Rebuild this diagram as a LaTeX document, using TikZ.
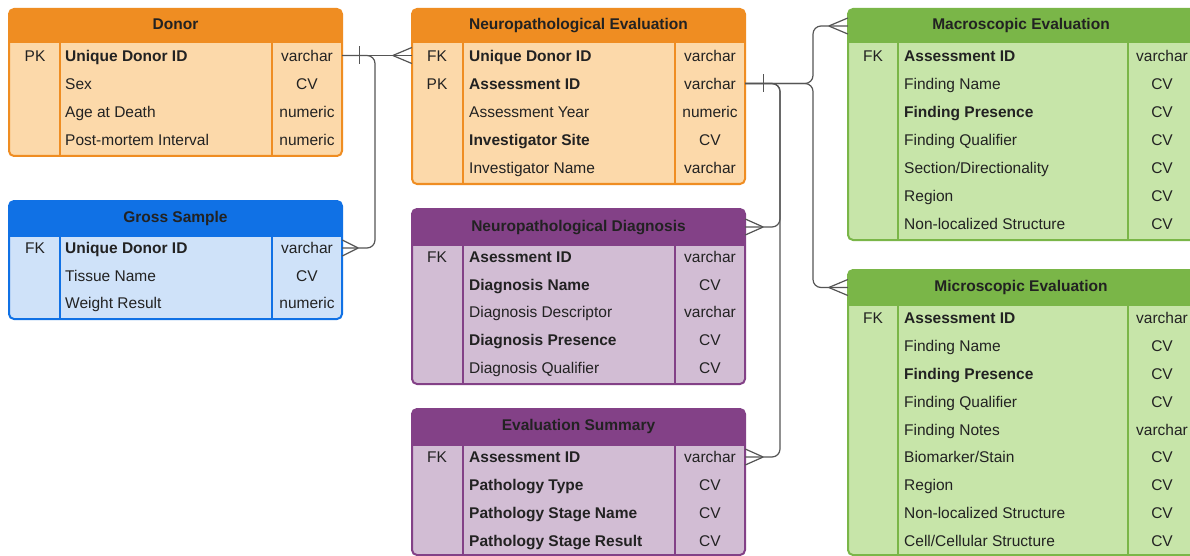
\documentclass[tikz,border=0pt]{standalone}
\usepackage{fontspec}
\setmainfont{Liberation Sans}
\usetikzlibrary{calc}
\definecolor{orhead}{HTML}{EF8D22}\definecolor{orbody}{HTML}{FCD9AA}
\definecolor{blhead}{HTML}{1071E5}\definecolor{blbody}{HTML}{CFE2F9}
\definecolor{puhead}{HTML}{834187}\definecolor{pubody}{HTML}{D2BDD4}
\definecolor{grhead}{HTML}{7AB648}\definecolor{grbody}{HTML}{C7E5A9}
\definecolor{txt}{HTML}{222222}\definecolor{lin}{HTML}{555555}
\tikzset{
 txtbase/.style={inner sep=0pt, text height=11.2pt, text depth=0pt, font=\fontsize{15.5}{18}\selectfont, text=txt},
 keytxt/.style={txtbase, anchor=center},
 fieldtxt/.style={txtbase, anchor=west},
 typetxt/.style={txtbase, anchor=center},
 titletxt/.style={txtbase, anchor=center, font=\fontsize{15.5}{18}\selectfont\bfseries},
 rowbox/.style={inner sep=0pt, minimum height=28pt, draw=none},
 conn/.style={draw=lin, line width=1.2pt},
}
\newcommand\ertable[9]{%
 \fill[#7body, rounded corners=5pt] (#2,#3) rectangle (#4,#5);
 \begin{scope}
  \clip ({#2-2},{#3-2}) rectangle ({#4+2},#6);
  \fill[#7head, rounded corners=5pt] (#2,#3) rectangle (#4,#5);
 \end{scope}
 \draw[#7head, line width=2pt] (#8,#6) -- (#8,#5) (#9,#6) -- (#9,#5);
 \draw[#7head, line width=2pt, rounded corners=5pt] (#2,#3) rectangle (#4,#5);
 \node[inner sep=0pt, minimum width={(#4-#2)*1pt}, minimum height={(#6-#3)*1pt}] (#1-h) at ({(#2+#4)/2},{(#3+#6)/2}) {};
}
\newcommand\settable[5]{\def\tbL{#1}\def\tbR{#2}\def\tbK{#3}\def\tbF{#4}\def\tbT{#5}}
\newcommand\errow[5]{%
 \node[rowbox, minimum width={(\tbR-\tbL)*1pt}] (#1) at ({(\tbL+\tbR)/2},#2) {};
 \node[keytxt] (#1-k) at (\tbK,#2) {#3};
 \node[fieldtxt] (#1-f) at (\tbF,#2) {#4};
 \node[typetxt] (#1-t) at (\tbT,#2) {#5};
}
\newcommand\crow[2]{%
 \draw[conn] ($(#1)+(#2,0)$) -- ($(#1)+(0,-8)$) ($(#1)+(#2,0)$) -- ($(#1)+(0,8)$);}
\newcommand\onebar[2]{%
 \draw[conn] ($(#1)+(#2,-9)$) -- ($(#1)+(#2,9)$);}
\begin{document}
\begin{tikzpicture}[x=1pt,y=-1pt]
\useasboundingbox (0,0) rectangle (1190,556);
\clip (0,0) rectangle (1190,556);
\fill[white] (0,0) rectangle (1190,556);

% Donor
\ertable{donor}{9}{9}{342}{156}{43}{or}{60}{272}
\node[titletxt] (donor-title) at (175.5,24) {Donor};
\settable{9}{342}{35}{65}{307}
\errow{donor1}{55.5}{PK}{\bfseries Unique Donor ID}{varchar}
\errow{donor2}{83.5}{}{Sex}{CV}
\errow{donor3}{111.5}{}{Age at Death}{numeric}
\errow{donor4}{139.5}{}{Post-mortem Interval}{numeric}

% Gross Sample
\ertable{gross}{9}{201}{342}{319}{236}{bl}{60}{272}
\node[titletxt] (gross-title) at (175.5,217) {Gross Sample};
\settable{9}{342}{35}{65}{307}
\errow{gross1}{248}{FK}{\bfseries Unique Donor ID}{varchar}
\errow{gross2}{276}{}{Tissue Name}{CV}
\errow{gross3}{303}{}{Weight Result}{numeric}

% Neuropathological Evaluation
\ertable{neval}{412}{9}{745}{184}{43}{or}{463}{675}
\node[titletxt] (neval-title) at (578.5,24) {Neuropathological Evaluation};
\settable{412}{745}{437}{469}{710}
\errow{neval1}{55.5}{FK}{\bfseries Unique Donor ID}{varchar}
\errow{neval2}{83.5}{PK}{\bfseries Assessment ID}{varchar}
\errow{neval3}{111.5}{}{Assessment Year}{numeric}
\errow{neval4}{139.5}{}{\bfseries Investigator Site}{CV}
\errow{neval5}{167.5}{}{Investigator Name}{varchar}

% Neuropathological Diagnosis
\ertable{diag}{412}{209}{745}{384}{245}{pu}{463}{675}
\node[titletxt] (diag-title) at (578.5,226) {Neuropathological Diagnosis};
\settable{412}{745}{437}{469}{710}
\errow{diag1}{256.5}{FK}{\bfseries Asessment ID}{varchar}
\errow{diag2}{284.5}{}{\bfseries Diagnosis Name}{CV}
\errow{diag3}{312}{}{Diagnosis Descriptor}{varchar}
\errow{diag4}{340}{}{\bfseries Diagnosis Presence}{CV}
\errow{diag5}{368}{}{Diagnosis Qualifier}{CV}

% Evaluation Summary
\ertable{summ}{412}{409}{745}{555}{445}{pu}{463}{675}
\node[titletxt] (summ-title) at (578.5,425) {Evaluation Summary};
\settable{412}{745}{437}{469}{710}
\errow{summ1}{457}{FK}{\bfseries Assessment ID}{varchar}
\errow{summ2}{485}{}{\bfseries Pathology Type}{CV}
\errow{summ3}{513}{}{\bfseries Pathology Stage Name}{CV}
\errow{summ4}{541}{}{\bfseries Pathology Stage Result}{CV}

% Macroscopic Evaluation
\ertable{macro}{848}{9}{1198}{240}{43}{gr}{898}{1128}
\node[titletxt] (macro-title) at (1021,24) {Macroscopic Evaluation};
\settable{848}{1198}{873}{904}{1162}
\errow{macro1}{55.5}{FK}{\bfseries Assessment ID}{varchar}
\errow{macro2}{83.5}{}{Finding Name}{CV}
\errow{macro3}{111.5}{}{\bfseries Finding Presence}{CV}
\errow{macro4}{139.5}{}{Finding Qualifier}{CV}
\errow{macro5}{167.5}{}{Section/Directionality}{CV}
\errow{macro6}{195.5}{}{Region}{CV}
\errow{macro7}{223.5}{}{Non-localized Structure}{CV}

% Microscopic Evaluation
\ertable{micro}{848}{270}{1198}{555}{305}{gr}{898}{1128}
\node[titletxt] (micro-title) at (1021,286) {Microscopic Evaluation};
\settable{848}{1198}{873}{904}{1162}
\errow{micro1}{317.5}{FK}{\bfseries Assessment ID}{varchar}
\errow{micro2}{345.5}{}{Finding Name}{CV}
\errow{micro3}{373.5}{}{\bfseries Finding Presence}{CV}
\errow{micro4}{401.5}{}{Finding Qualifier}{CV}
\errow{micro5}{429.5}{}{Finding Notes}{varchar}
\errow{micro6}{457}{}{Biomarker/Stain}{CV}
\errow{micro7}{485}{}{Region}{CV}
\errow{micro8}{513}{}{Non-localized Structure}{CV}
\errow{micro9}{541}{}{Cell/Cellular Structure}{CV}

% junction x positions
\coordinate (j1) at (375,0);
\coordinate (j3) at (780,0);
\coordinate (j4) at (813,0);

% Donor -> Neuropath Evaluation, Gross Sample
\draw[conn] (donor1.east) -- (neval1.west);
\draw[conn, rounded corners=8pt] (donor1.east) -- (donor1.east -| j1) |- (gross1.east);
\onebar{donor1.east}{17}
\crow{neval1.west}{-19}
\crow{gross1.east}{16}

% Neuropath Evaluation -> others
\draw[conn, rounded corners=8pt] (neval2.east) -- (neval2.east -| j3) |- (diag-h.east);
\draw[conn, rounded corners=8pt] (neval2.east) -- (neval2.east -| j3) |- (summ1.east);
\draw[conn, rounded corners=8pt] (neval2.east) -- (neval2.east -| j4) |- (macro-h.west);
\draw[conn, rounded corners=8pt] (neval2.east) -- (neval2.east -| j4) |- (micro-h.west);
\onebar{neval2.east}{18}
\crow{diag-h.east}{18}
\crow{summ1.east}{18}
\crow{macro-h.west}{-19}
\crow{micro-h.west}{-19}
\end{tikzpicture}
\end{document}
